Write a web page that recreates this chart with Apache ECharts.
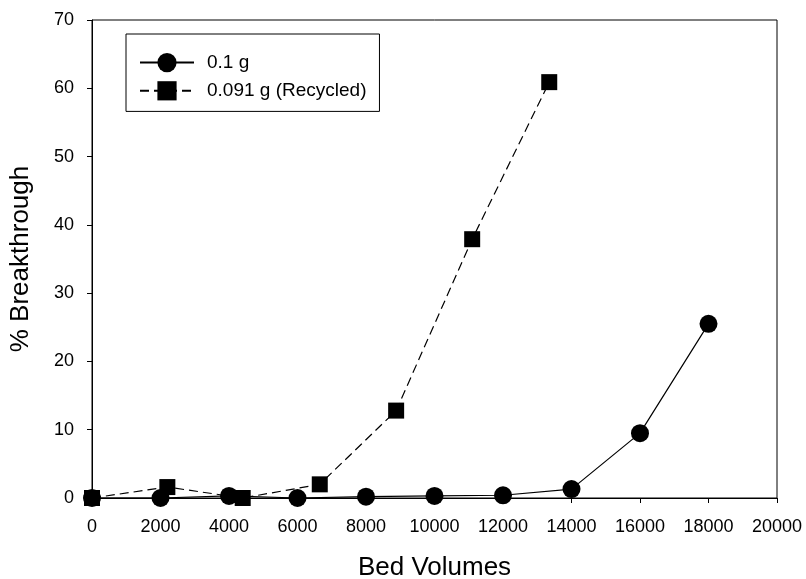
<!DOCTYPE html>
<html>
<head>
<meta charset="utf-8">
<script src="https://cdn.jsdelivr.net/npm/echarts@6/dist/echarts.min.js"></script>
<style>html,body{margin:0;padding:0;background:#fff}#c{width:806px;height:579px}</style>
</head>
<body>
<div id="c"></div>
<script>
const seriesNames = ['0.1 g', '0.091 g (Recycled)'];
const x01 = [0, 2000, 4000, 6000, 8000, 10000, 12000, 14000, 16000, 18000];
const y01 = [0, 0, 0.3, 0, 0.2, 0.3, 0.4, 1.3, 9.5, 25.5];
const xRec = [0, 2200, 4400, 6650, 8880, 11100, 13350];
const yRec = [0, 1.6, 0, 2.0, 12.8, 37.9, 60.9];
const xTitle = 'Bed Volumes';
const yTitle = '% Breakthrough';

const font = '"Liberation Sans", Arial, sans-serif';
const chart = echarts.init(document.getElementById('c'));
chart.setOption({
  animation: false,
  backgroundColor: '#fff',
  grid: { left: 92, right: 29, top: 20, bottom: 81, show: true, borderColor: '#000', borderWidth: 1,
          containLabel: false, outerBoundsMode: 'none' },
  legend: {
    left: 126, top: 34, orient: 'vertical',
    padding: [19, 13, 11, 13], itemGap: 9,
    itemWidth: 54, itemHeight: 24,
    borderColor: '#000', borderWidth: 1,
    textStyle: { fontFamily: font, fontSize: 19, color: '#000', padding: [0, 0, 0, 8] },
    data: seriesNames
  },
  xAxis: {
    type: 'value', min: 0, max: 20000, interval: 2000,
    name: xTitle, nameLocation: 'middle', nameGap: 57,
    nameTextStyle: { fontFamily: font, fontSize: 26, color: '#000' },
    axisLine: { lineStyle: { color: '#000', width: 1 } },
    axisTick: { show: true, inside: false, length: 5, lineStyle: { color: '#000' } },
    axisLabel: { fontFamily: font, fontSize: 18, color: '#000', margin: 20, formatter: v => String(v) },
    splitLine: { show: false }
  },
  yAxis: {
    type: 'value', min: 0, max: 70, interval: 10,
    name: yTitle, nameLocation: 'middle', nameGap: 58,
    nameTextStyle: { fontFamily: font, fontSize: 26, color: '#000' },
    axisLine: { show: true, lineStyle: { color: '#000', width: 1 } },
    axisTick: { show: true, inside: false, length: 5, lineStyle: { color: '#000' } },
    axisLabel: { fontFamily: font, fontSize: 18, color: '#000', margin: 18, formatter: v => String(v) },
    splitLine: { show: false }
  },
  series: [
    {
      name: seriesNames[0], type: 'line',
      data: x01.map((x, i) => [x, y01[i]]),
      symbol: 'circle', symbolSize: 18,
      itemStyle: { color: '#000' },
      lineStyle: { color: '#000', width: 1.2 },
      z: 3
    },
    {
      name: seriesNames[1], type: 'line',
      data: xRec.map((x, i) => [x, yRec[i]]),
      symbol: 'rect', symbolSize: 16,
      itemStyle: { color: '#000' },
      lineStyle: { color: '#000', width: 1.2, type: [9, 5] },
      z: 2
    }
  ]
});
</script>
</body>
</html>
